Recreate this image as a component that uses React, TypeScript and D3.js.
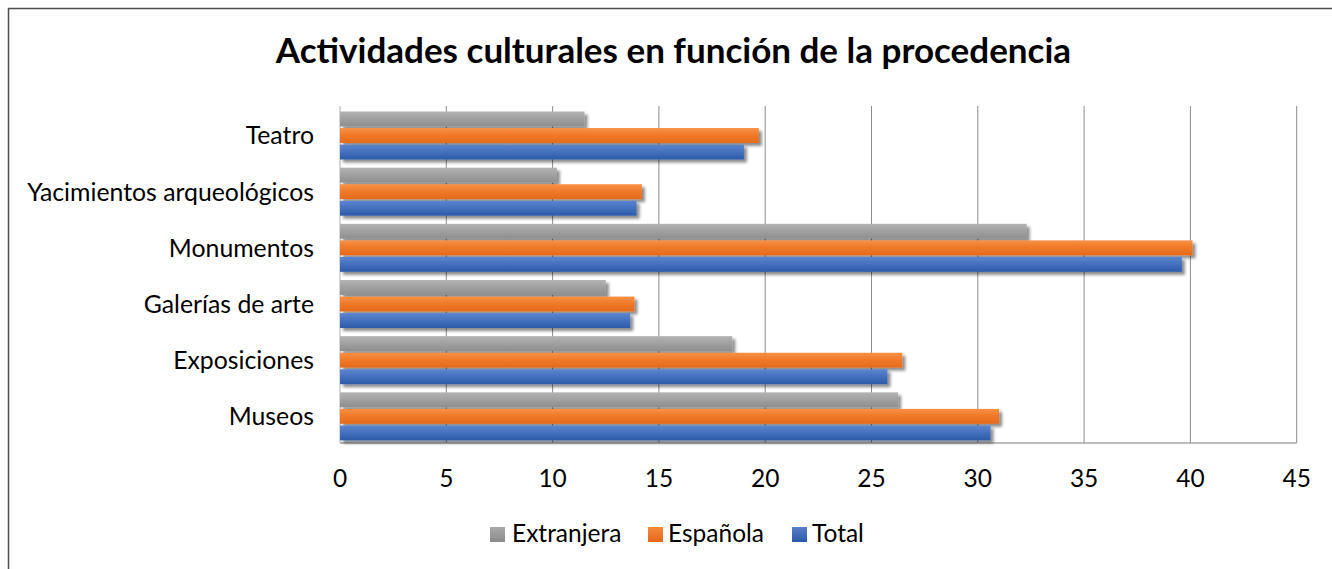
import React from "react";
import * as d3 from "d3";

const categories = ["Teatro", "Yacimientos arqueológicos", "Monumentos", "Galerías de arte", "Exposiciones", "Museos"];
const seriesNames = ["Extranjera", "Española", "Total"];
const extranjera = [11.5, 10.2, 32.3, 12.5, 18.45, 26.25];
const espanola = [19.7, 14.2, 40.1, 13.85, 26.45, 31.0];
const total = [19.0, 13.95, 39.6, 13.65, 25.75, 30.6];
const xTicks = [0, 5, 10, 15, 20, 25, 30, 35, 40, 45];
const title = "Actividades culturales en función de la procedencia";

const seriesValues = [extranjera, espanola, total];
const gradients = [
  ["#b3b3b3", "#a2a2a2", "#8e8e8e"],
  ["#f89146", "#f07a2a", "#e46a1b"],
  ["#5d85cc", "#4672bf", "#2c5ba9"],
];
const legendColors = [
  ["#a9a9a9", "#8a8a8a"],
  ["#f6883a", "#e4681a"],
  ["#5a80c8", "#2a58a6"],
];

const FONT = "Lato, 'Open Sans', sans-serif";

export default function App() {
  const W = 1332, H = 569;
  const left = 340, right = 1296.7, top = 106, bottom = 443;
  const x = d3.scaleLinear().domain([0, 45]).range([left, right]);
  const y = d3.scaleBand<string>().domain(categories).range([top, bottom]).padding(0);
  const ys = d3.scaleBand<string>().domain(seriesNames).range([5.5, 53.5]).paddingInner(0.1);

  const legendItems = [
    { name: seriesNames[0], sx: 490, tx: 512 },
    { name: seriesNames[1], sx: 648, tx: 668 },
    { name: seriesNames[2], sx: 792, tx: 812 },
  ];

  return (
    <svg width={W} height={H} style={{ position: "absolute", left: 0, top: 0, background: "#fff" }}>
      <defs>
        {gradients.map((g, i) => (
          <linearGradient key={i} id={`grad${i}`} x1="0" y1="0" x2="0" y2="1">
            <stop offset="0%" stopColor={g[0]} />
            <stop offset="45%" stopColor={g[1]} />
            <stop offset="100%" stopColor={g[2]} />
          </linearGradient>
        ))}
        {legendColors.map((g, i) => (
          <linearGradient key={i} id={`lg${i}`} x1="0" y1="0" x2="0" y2="1">
            <stop offset="0%" stopColor={g[0]} />
            <stop offset="100%" stopColor={g[1]} />
          </linearGradient>
        ))}
        <filter id="shadow" x="-5%" y="-30%" width="115%" height="180%">
          <feDropShadow dx="3" dy="3" stdDeviation="1.8" floodColor="#000" floodOpacity="0.45" />
        </filter>
      </defs>
      <rect x={0} y={0} width={W} height={H} fill="#fff" />
      <rect x={8.5} y={8.5} width={W + 20} height={H + 20} fill="none" stroke="#4d4d4d" strokeWidth={1.5} />

      <text x={673.5} y={63} textAnchor="middle" fontFamily={FONT} fontWeight={700} fontSize={35} fill="#000">
        {title}
      </text>

      {/* gridlines */}
      {xTicks.map((t) => (
        <line key={t} x1={x(t)} x2={x(t)} y1={top} y2={bottom} stroke={t === 0 ? "#b0b0b0" : "#8c8c8c"} strokeWidth={1} />
      ))}
      <line x1={left} x2={right} y1={bottom} y2={bottom} stroke="#a6a6a6" strokeWidth={1.5} />

      {/* bars */}
      {categories.map((c, ci) => (
        <g key={c} transform={`translate(0,${y(c)})`}>
          {seriesNames.map((s, si) => (
            <rect
              key={s}
              x={x(0)}
              y={ys(s)}
              width={x(seriesValues[si][ci]) - x(0)}
              height={ys.bandwidth()}
              fill={`url(#grad${si})`}
              filter="url(#shadow)"
            />
          ))}
        </g>
      ))}

      {/* category labels */}
      {categories.map((c) => (
        <text key={c} x={314} y={(y(c) as number) + y.bandwidth() / 2 + 4} dominantBaseline="middle" textAnchor="end" fontFamily={FONT} fontSize={24.8} fill="#000">
          {c}
        </text>
      ))}

      {/* x tick labels */}
      {xTicks.map((t) => (
        <text key={t} x={x(t)} y={487} textAnchor="middle" fontFamily={FONT} fontSize={24.5} fill="#000">
          {t}
        </text>
      ))}

      {/* legend */}
      {legendItems.map((l, i) => (
        <g key={l.name}>
          <rect x={l.sx} y={527} width={15} height={15} fill={`url(#lg${i})`} />
          <text x={l.tx} y={542} fontFamily={FONT} fontSize={24.5} fill="#000">
            {l.name}
          </text>
        </g>
      ))}
    </svg>
  );
}
